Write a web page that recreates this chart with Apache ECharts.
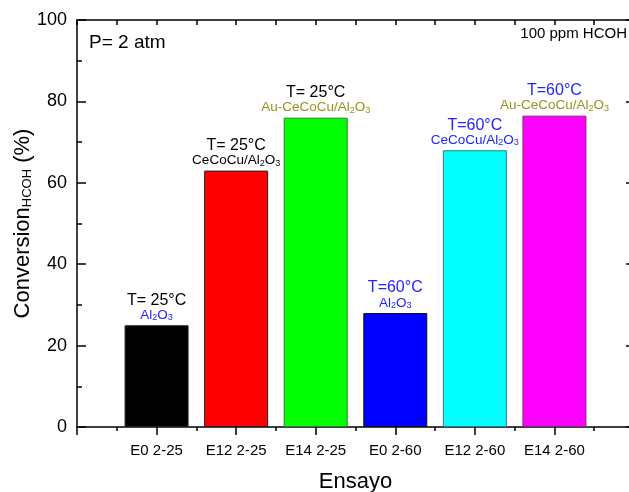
<!DOCTYPE html>
<html>
<head>
<meta charset="utf-8">
<script src="https://cdn.jsdelivr.net/npm/echarts@6/dist/echarts.min.js"></script>
<style>html,body{margin:0;padding:0;background:#fff;}#c{width:629px;height:492px;}</style>
</head>
<body>
<div id="c"></div>
<script>
const categories = ['E0 2-25', 'E12 2-25', 'E14 2-25', 'E0 2-60', 'E12 2-60', 'E14 2-60'];
const conversion = [25, 63, 76, 28, 68, 76.5];
const tempLabels = ['T= 25°C', 'T= 25°C', 'T= 25°C', 'T=60°C', 'T=60°C', 'T=60°C'];
const catalysts = [['Al', '2', 'O', '3'], ['CeCoCu/Al', '2', 'O', '3'], ['Au-CeCoCu/Al', '2', 'O', '3'],
                   ['Al', '2', 'O', '3'], ['CeCoCu/Al', '2', 'O', '3'], ['Au-CeCoCu/Al', '2', 'O', '3']];
const yTicks = [0, 20, 40, 60, 80, 100];

const barColors = ['#000000', '#ff0000', '#00ff00', '#0000ff', '#00ffff', '#ff00ff'];
const barBorders = ['#222222', '#222222', '#2e7d2e', '#111111', '#2e7f7f', '#7a2a7a'];
const tempColorKey = ['K', 'K', 'K', 'B', 'B', 'B'];
const catColorKey = ['B', 'K', 'O', 'B', 'B', 'O'];

const FONT = '"Liberation Sans", Arial, sans-serif';
const palette = { K: '#000000', B: '#2323ff', O: '#94941c' };
const rich = {};
Object.keys(palette).forEach(k => {
  rich['t' + k] = { color: palette[k], fontSize: 16, lineHeight: 16, fontFamily: FONT };
  rich['c' + k] = { color: palette[k], fontSize: 13.5, lineHeight: 14, fontFamily: FONT };
  rich['s' + k] = { color: palette[k], fontSize: 9, lineHeight: 5, verticalAlign: 'bottom', fontFamily: FONT };
});

function labelText(i) {
  const t = tempColorKey[i], c = catColorKey[i];
  const p = catalysts[i];
  return '{t' + t + '|' + tempLabels[i] + '}\n' +
    '{c' + c + '|' + p[0] + '}{s' + c + '|' + p[1] + '}{c' + c + '|' + p[2] + '}{s' + c + '|' + p[3] + '}';
}

const barData = conversion.map((v, i) => ({
  value: [i + 1, v],
  itemStyle: { color: barColors[i], borderColor: barBorders[i], borderWidth: 1 },
  label: { show: true, position: 'top', distance: 3, formatter: () => labelText(i), rich: rich, align: 'center' }
}));

const axisLineStyle = { color: '#000', width: 1.5 };
const chart = echarts.init(document.getElementById('c'), null, { renderer: 'canvas' });
chart.setOption({
  animation: false,
  backgroundColor: '#fff',
  textStyle: { fontFamily: FONT },
  title: [
    { text: 'P= 2 atm', left: 89, top: 33, padding: 0, textStyle: { fontSize: 19, fontWeight: 'normal', color: '#000', fontFamily: FONT } },
    { text: '100 ppm HCOH', right: 2, top: 26, padding: 0, textStyle: { fontSize: 15, fontWeight: 'normal', color: '#000', fontFamily: FONT } }
  ],
  grid: { left: 77, right: -5, top: 20, bottom: 65, containLabel: false, outerBoundsMode: 'none' },
  xAxis: [
    {
      type: 'value', min: 0, max: 7, interval: 1, position: 'bottom', gridIndex: 0,
      axisLine: { show: true, onZero: false, lineStyle: axisLineStyle },
      axisTick: { show: true, inside: false, length: 8, lineStyle: { color: '#000', width: 1.5 } },
      minorTick: { show: true, splitNumber: 2, length: 4, lineStyle: { color: '#000', width: 1.5 } },
      splitLine: { show: false },
      axisLabel: { fontSize: 15, color: '#000', margin: 16, fontFamily: FONT,
        formatter: v => categories[v - 1] || '' },
      name: 'Ensayo', nameLocation: 'middle', nameGap: 44, nameMoveOverlap: false,
      nameTextStyle: { fontSize: 22, color: '#000', fontFamily: FONT }
    },
    {
      type: 'value', min: 0, max: 7, interval: 0.5, position: 'top', gridIndex: 0,
      axisLine: { show: true, onZero: false, lineStyle: axisLineStyle },
      axisTick: { show: true, inside: true, length: 5, lineStyle: { color: '#000', width: 1.5 } },
      axisLabel: { show: false }, splitLine: { show: false }
    }
  ],
  yAxis: [
    {
      type: 'value', min: yTicks[0], max: yTicks[yTicks.length - 1], interval: 20, position: 'left', gridIndex: 0,
      axisLine: { show: true, onZero: false, lineStyle: axisLineStyle },
      axisTick: { show: true, inside: true, length: 9, lineStyle: { color: '#000', width: 1.5 } },
      minorTick: { show: true, splitNumber: 2, length: 5, lineStyle: { color: '#000', width: 1.5 } },
      splitLine: { show: false },
      axisLabel: { fontSize: 18, color: '#000', margin: 10, fontFamily: FONT },
      name: 'Conversion{sub|HCOH} (%)', nameLocation: 'middle', nameGap: 43, nameRotate: 90, nameMoveOverlap: false,
      nameTextStyle: { fontSize: 22, color: '#000', fontFamily: FONT,
        rich: { sub: { fontSize: 13, verticalAlign: 'bottom', lineHeight: 10, color: '#000', fontFamily: FONT } } }
    },
    {
      type: 'value', min: 0, max: 100, interval: 20, position: 'right', gridIndex: 0,
      axisLine: { show: true, onZero: false, lineStyle: axisLineStyle },
      axisTick: { show: true, inside: true, length: 8, lineStyle: { color: '#000', width: 1.5 } },
      minorTick: { show: true, splitNumber: 2, length: 5, lineStyle: { color: '#000', width: 1.5 } },
      axisLabel: { show: false }, splitLine: { show: false }
    }
  ],
  series: [
    { type: 'bar', xAxisIndex: 0, yAxisIndex: 0, barWidth: 64, data: barData }
  ]
});
</script>
</body>
</html>
